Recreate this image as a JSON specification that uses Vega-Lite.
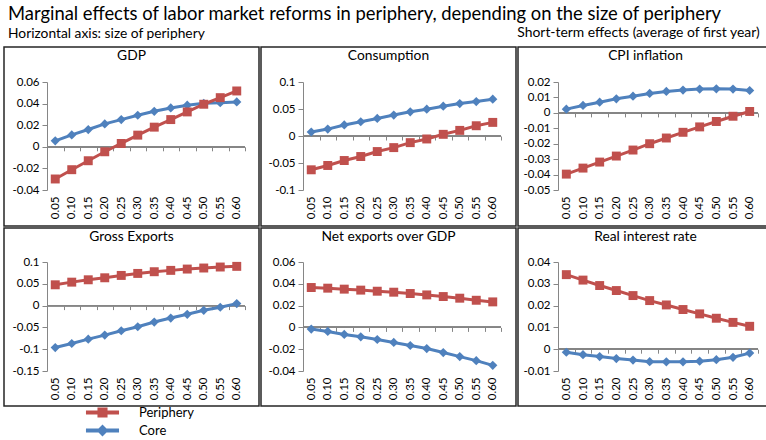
{
  "$schema": "https://vega.github.io/schema/vega-lite/v6.json",
  "padding": {"left": 3, "top": 5, "right": 0, "bottom": 0},
  "title": {
    "text": "Marginal effects of labor market reforms in periphery, depending on the size of periphery",
    "subtitle": "Horizontal axis: size of periphery",
    "anchor": "start", "frame": "group", "dx": 4, "offset": -14,
    "font": "Lato", "fontSize": 18.4, "fontWeight": "normal", "color": "#000",
    "subtitleFont": "Lato", "subtitleFontSize": 13.8, "subtitleColor": "#000", "subtitlePadding": 3
  },
  "data": {"values": [
    {"p":"GDP","x":0.05,"Periphery":-0.0298,"Core":0.0055},
    {"p":"GDP","x":0.10,"Periphery":-0.0212,"Core":0.011},
    {"p":"GDP","x":0.15,"Periphery":-0.0129,"Core":0.016},
    {"p":"GDP","x":0.20,"Periphery":-0.0046,"Core":0.0212},
    {"p":"GDP","x":0.25,"Periphery":0.0031,"Core":0.0252},
    {"p":"GDP","x":0.30,"Periphery":0.0108,"Core":0.0292},
    {"p":"GDP","x":0.35,"Periphery":0.0182,"Core":0.0329},
    {"p":"GDP","x":0.40,"Periphery":0.0252,"Core":0.036},
    {"p":"GDP","x":0.45,"Periphery":0.0323,"Core":0.0385},
    {"p":"GDP","x":0.50,"Periphery":0.0394,"Core":0.0403},
    {"p":"GDP","x":0.55,"Periphery":0.0455,"Core":0.0409},
    {"p":"GDP","x":0.60,"Periphery":0.0517,"Core":0.0415},
    {"p":"Consumption","x":0.05,"Periphery":-0.0626,"Core":0.0074},
    {"p":"Consumption","x":0.10,"Periphery":-0.0546,"Core":0.0128},
    {"p":"Consumption","x":0.15,"Periphery":-0.0454,"Core":0.0205},
    {"p":"Consumption","x":0.20,"Periphery":-0.038,"Core":0.0264},
    {"p":"Consumption","x":0.25,"Periphery":-0.0288,"Core":0.0325},
    {"p":"Consumption","x":0.30,"Periphery":-0.0215,"Core":0.0388},
    {"p":"Consumption","x":0.35,"Periphery":-0.0123,"Core":0.0448},
    {"p":"Consumption","x":0.40,"Periphery":-0.0055,"Core":0.0497},
    {"p":"Consumption","x":0.45,"Periphery":0.0031,"Core":0.0552},
    {"p":"Consumption","x":0.50,"Periphery":0.0104,"Core":0.0601},
    {"p":"Consumption","x":0.55,"Periphery":0.019,"Core":0.0638},
    {"p":"Consumption","x":0.60,"Periphery":0.0252,"Core":0.0681},
    {"p":"CPI inflation","x":0.05,"Periphery":-0.0397,"Core":0.0024},
    {"p":"CPI inflation","x":0.10,"Periphery":-0.0358,"Core":0.0048},
    {"p":"CPI inflation","x":0.15,"Periphery":-0.0319,"Core":0.0069},
    {"p":"CPI inflation","x":0.20,"Periphery":-0.028,"Core":0.0091},
    {"p":"CPI inflation","x":0.25,"Periphery":-0.0241,"Core":0.0108},
    {"p":"CPI inflation","x":0.30,"Periphery":-0.02,"Core":0.0126},
    {"p":"CPI inflation","x":0.35,"Periphery":-0.0163,"Core":0.0139},
    {"p":"CPI inflation","x":0.40,"Periphery":-0.0126,"Core":0.0148},
    {"p":"CPI inflation","x":0.45,"Periphery":-0.0091,"Core":0.0154},
    {"p":"CPI inflation","x":0.50,"Periphery":-0.0056,"Core":0.0156},
    {"p":"CPI inflation","x":0.55,"Periphery":-0.0022,"Core":0.0154},
    {"p":"CPI inflation","x":0.60,"Periphery":0.0009,"Core":0.0145},
    {"p":"Gross Exports","x":0.05,"Periphery":0.0477,"Core":-0.0962},
    {"p":"Gross Exports","x":0.10,"Periphery":0.0538,"Core":-0.0869},
    {"p":"Gross Exports","x":0.15,"Periphery":0.0592,"Core":-0.0769},
    {"p":"Gross Exports","x":0.20,"Periphery":0.0638,"Core":-0.0677},
    {"p":"Gross Exports","x":0.25,"Periphery":0.0692,"Core":-0.0577},
    {"p":"Gross Exports","x":0.30,"Periphery":0.0738,"Core":-0.0485},
    {"p":"Gross Exports","x":0.35,"Periphery":0.0777,"Core":-0.0377},
    {"p":"Gross Exports","x":0.40,"Periphery":0.0808,"Core":-0.0285},
    {"p":"Gross Exports","x":0.45,"Periphery":0.0838,"Core":-0.02},
    {"p":"Gross Exports","x":0.50,"Periphery":0.0862,"Core":-0.0108},
    {"p":"Gross Exports","x":0.55,"Periphery":0.0885,"Core":-0.0038},
    {"p":"Gross Exports","x":0.60,"Periphery":0.09,"Core":0.0046},
    {"p":"Net exports over GDP","x":0.05,"Periphery":0.0366,"Core":-0.0015},
    {"p":"Net exports over GDP","x":0.10,"Periphery":0.036,"Core":-0.0037},
    {"p":"Net exports over GDP","x":0.15,"Periphery":0.0351,"Core":-0.0065},
    {"p":"Net exports over GDP","x":0.20,"Periphery":0.0342,"Core":-0.0086},
    {"p":"Net exports over GDP","x":0.25,"Periphery":0.0332,"Core":-0.0111},
    {"p":"Net exports over GDP","x":0.30,"Periphery":0.0323,"Core":-0.0138},
    {"p":"Net exports over GDP","x":0.35,"Periphery":0.0311,"Core":-0.0166},
    {"p":"Net exports over GDP","x":0.40,"Periphery":0.0298,"Core":-0.0194},
    {"p":"Net exports over GDP","x":0.45,"Periphery":0.0283,"Core":-0.0231},
    {"p":"Net exports over GDP","x":0.50,"Periphery":0.0268,"Core":-0.0268},
    {"p":"Net exports over GDP","x":0.55,"Periphery":0.0249,"Core":-0.0305},
    {"p":"Net exports over GDP","x":0.60,"Periphery":0.0234,"Core":-0.0348},
    {"p":"Real interest rate","x":0.05,"Periphery":0.0342,"Core":-0.0014},
    {"p":"Real interest rate","x":0.10,"Periphery":0.0317,"Core":-0.0025},
    {"p":"Real interest rate","x":0.15,"Periphery":0.0292,"Core":-0.0034},
    {"p":"Real interest rate","x":0.20,"Periphery":0.0269,"Core":-0.0043},
    {"p":"Real interest rate","x":0.25,"Periphery":0.0246,"Core":-0.005},
    {"p":"Real interest rate","x":0.30,"Periphery":0.0223,"Core":-0.0057},
    {"p":"Real interest rate","x":0.35,"Periphery":0.0203,"Core":-0.0058},
    {"p":"Real interest rate","x":0.40,"Periphery":0.0182,"Core":-0.0058},
    {"p":"Real interest rate","x":0.45,"Periphery":0.0162,"Core":-0.0055},
    {"p":"Real interest rate","x":0.50,"Periphery":0.0142,"Core":-0.0048},
    {"p":"Real interest rate","x":0.55,"Periphery":0.0123,"Core":-0.0037},
    {"p":"Real interest rate","x":0.60,"Periphery":0.0105,"Core":-0.0018}
  ]},
  "vconcat": [
    {
      "title": {"text": "Short-term effects (average of first year)", "anchor": "end", "frame": "bounds", "offset": 6, "dx": -14,
        "font": "Lato", "fontSize": 13.9, "fontWeight": "normal", "color": "#000"},
      "hconcat": [
        {
          "width": 255, "height": 179,
          "title": {"text": "GDP"},
          "transform": [{"fold": ["Periphery", "Core"], "as": ["s", "v"]}, {"filter": "datum.p === 'GDP'"}],
          "resolve": {"axis": {"x": "independent"}},
          "encoding": {
            "y": {"field": "v", "type": "quantitative", "scale": {"domain": [-0.04, 0.06], "range": [143, 35], "nice": false, "zero": false},
              "axis": {"values": [-0.04,-0.02,0,0.02,0.04,0.06], "labelExpr": "datum.value + ''", "offset": -43}}
          },
          "layer": [
            {"mark": {"type": "rule", "color": "#868686"}, "encoding": {
              "x": {"datum": 0.025, "type": "quantitative", "scale": {"domain": [0.025, 0.625], "range": [43, 241], "nice": false, "zero": false},
                "axis": {"orient": "bottom", "values": [0.025,0.075,0.125,0.175,0.225,0.275,0.325,0.375,0.425,0.475,0.525,0.575,0.625], "labels": false, "domain": false, "tickSize": 4, "offset": -79.2}},
              "x2": {"datum": 0.625}, "y": {"datum": 0}}},
            {"transform": [{"filter": "datum.s === 'Core'"}], "mark": {"type": "line", "color": "#4F81BD", "strokeWidth": 3},
              "encoding": {"x": {"field": "x", "type": "quantitative", "scale": {"domain": [0.025, 0.625], "range": [43, 241], "nice": false, "zero": false},
                "axis": {"orient": "bottom", "values": [0.05,0.1,0.15,0.2,0.25,0.3,0.35,0.4,0.45,0.5,0.55,0.6], "format": ".2f", "offset": -36, "domain": false, "ticks": false, "labelAngle": -90, "labelPadding": 6}}}},
            {"transform": [{"filter": "datum.s === 'Core'"}], "mark": {"type": "point", "shape": "diamond", "filled": true, "opacity": 1, "size": 85, "color": "#4F81BD"},
              "encoding": {"x": {"field": "x", "type": "quantitative", "axis": null}}},
            {"transform": [{"filter": "datum.s === 'Periphery'"}], "mark": {"type": "line", "color": "#C0504D", "strokeWidth": 3},
              "encoding": {"x": {"field": "x", "type": "quantitative", "axis": null}}},
            {"transform": [{"filter": "datum.s === 'Periphery'"}], "mark": {"type": "point", "shape": "square", "filled": true, "opacity": 1, "size": 80, "color": "#C0504D"},
              "encoding": {"x": {"field": "x", "type": "quantitative", "axis": null}}}
          ]
        },
        {
          "width": 255, "height": 179,
          "title": {"text": "Consumption"},
          "transform": [{"fold": ["Periphery", "Core"], "as": ["s", "v"]}, {"filter": "datum.p === 'Consumption'"}],
          "resolve": {"axis": {"x": "independent"}},
          "encoding": {
            "y": {"field": "v", "type": "quantitative", "scale": {"domain": [-0.1, 0.1], "range": [143, 35], "nice": false, "zero": false},
              "axis": {"values": [-0.1,-0.05,0,0.05,0.1], "labelExpr": "datum.value + ''", "offset": -42}}
          },
          "layer": [
            {"mark": {"type": "rule", "color": "#868686"}, "encoding": {
              "x": {"datum": 0.025, "type": "quantitative", "scale": {"domain": [0.025, 0.625], "range": [42, 240], "nice": false, "zero": false},
                "axis": {"orient": "bottom", "values": [0.025,0.075,0.125,0.175,0.225,0.275,0.325,0.375,0.425,0.475,0.525,0.575,0.625], "labels": false, "domain": false, "tickSize": 4, "offset": -90}},
              "x2": {"datum": 0.625}, "y": {"datum": 0}}},
            {"transform": [{"filter": "datum.s === 'Core'"}], "mark": {"type": "line", "color": "#4F81BD", "strokeWidth": 3},
              "encoding": {"x": {"field": "x", "type": "quantitative", "scale": {"domain": [0.025, 0.625], "range": [42, 240], "nice": false, "zero": false},
                "axis": {"orient": "bottom", "values": [0.05,0.1,0.15,0.2,0.25,0.3,0.35,0.4,0.45,0.5,0.55,0.6], "format": ".2f", "offset": -36, "domain": false, "ticks": false, "labelAngle": -90, "labelPadding": 6}}}},
            {"transform": [{"filter": "datum.s === 'Core'"}], "mark": {"type": "point", "shape": "diamond", "filled": true, "opacity": 1, "size": 85, "color": "#4F81BD"},
              "encoding": {"x": {"field": "x", "type": "quantitative", "axis": null}}},
            {"transform": [{"filter": "datum.s === 'Periphery'"}], "mark": {"type": "line", "color": "#C0504D", "strokeWidth": 3},
              "encoding": {"x": {"field": "x", "type": "quantitative", "axis": null}}},
            {"transform": [{"filter": "datum.s === 'Periphery'"}], "mark": {"type": "point", "shape": "square", "filled": true, "opacity": 1, "size": 80, "color": "#C0504D"},
              "encoding": {"x": {"field": "x", "type": "quantitative", "axis": null}}}
          ]
        },
        {
          "width": 255, "height": 179,
          "title": {"text": "CPI inflation"},
          "transform": [{"fold": ["Periphery", "Core"], "as": ["s", "v"]}, {"filter": "datum.p === 'CPI inflation'"}],
          "resolve": {"axis": {"x": "independent"}},
          "encoding": {
            "y": {"field": "v", "type": "quantitative", "scale": {"domain": [-0.05, 0.02], "range": [143, 35], "nice": false, "zero": false},
              "axis": {"values": [-0.05,-0.04,-0.03,-0.02,-0.01,0,0.01,0.02], "labelExpr": "datum.value + ''", "offset": -40}}
          },
          "layer": [
            {"mark": {"type": "rule", "color": "#868686"}, "encoding": {
              "x": {"datum": 0.025, "type": "quantitative", "scale": {"domain": [0.025, 0.625], "range": [40, 240], "nice": false, "zero": false},
                "axis": {"orient": "bottom", "values": [0.025,0.075,0.125,0.175,0.225,0.275,0.325,0.375,0.425,0.475,0.525,0.575,0.625], "labels": false, "domain": false, "tickSize": 4, "offset": -113.1}},
              "x2": {"datum": 0.625}, "y": {"datum": 0}}},
            {"transform": [{"filter": "datum.s === 'Core'"}], "mark": {"type": "line", "color": "#4F81BD", "strokeWidth": 3},
              "encoding": {"x": {"field": "x", "type": "quantitative", "scale": {"domain": [0.025, 0.625], "range": [40, 240], "nice": false, "zero": false},
                "axis": {"orient": "bottom", "values": [0.05,0.1,0.15,0.2,0.25,0.3,0.35,0.4,0.45,0.5,0.55,0.6], "format": ".2f", "offset": -36, "domain": false, "ticks": false, "labelAngle": -90, "labelPadding": 6}}}},
            {"transform": [{"filter": "datum.s === 'Core'"}], "mark": {"type": "point", "shape": "diamond", "filled": true, "opacity": 1, "size": 85, "color": "#4F81BD"},
              "encoding": {"x": {"field": "x", "type": "quantitative", "axis": null}}},
            {"transform": [{"filter": "datum.s === 'Periphery'"}], "mark": {"type": "line", "color": "#C0504D", "strokeWidth": 3},
              "encoding": {"x": {"field": "x", "type": "quantitative", "axis": null}}},
            {"transform": [{"filter": "datum.s === 'Periphery'"}], "mark": {"type": "point", "shape": "square", "filled": true, "opacity": 1, "size": 80, "color": "#C0504D"},
              "encoding": {"x": {"field": "x", "type": "quantitative", "axis": null}}}
          ]
        }
      ]
    },
    {
      "hconcat": [
        {
          "width": 255, "height": 178,
          "title": {"text": "Gross Exports"},
          "transform": [{"fold": ["Periphery", "Core"], "as": ["s", "v"]}, {"filter": "datum.p === 'Gross Exports'"}],
          "resolve": {"axis": {"x": "independent"}},
          "encoding": {
            "y": {"field": "v", "type": "quantitative", "scale": {"domain": [-0.15, 0.1], "range": [143, 34], "nice": false, "zero": false},
              "axis": {"values": [-0.15,-0.1,-0.05,0,0.05,0.1], "labelExpr": "datum.value + ''", "offset": -43}}
          },
          "layer": [
            {"mark": {"type": "rule", "color": "#868686"}, "encoding": {
              "x": {"datum": 0.025, "type": "quantitative", "scale": {"domain": [0.025, 0.625], "range": [43, 241], "nice": false, "zero": false},
                "axis": {"orient": "bottom", "values": [0.025,0.075,0.125,0.175,0.225,0.275,0.325,0.375,0.425,0.475,0.525,0.575,0.625], "labels": false, "domain": false, "tickSize": 4, "offset": -100.4}},
              "x2": {"datum": 0.625}, "y": {"datum": 0}}},
            {"transform": [{"filter": "datum.s === 'Core'"}], "mark": {"type": "line", "color": "#4F81BD", "strokeWidth": 3},
              "encoding": {"x": {"field": "x", "type": "quantitative", "scale": {"domain": [0.025, 0.625], "range": [43, 241], "nice": false, "zero": false},
                "axis": {"orient": "bottom", "values": [0.05,0.1,0.15,0.2,0.25,0.3,0.35,0.4,0.45,0.5,0.55,0.6], "format": ".2f", "offset": -35, "domain": false, "ticks": false, "labelAngle": -90, "labelPadding": 6}}}},
            {"transform": [{"filter": "datum.s === 'Core'"}], "mark": {"type": "point", "shape": "diamond", "filled": true, "opacity": 1, "size": 85, "color": "#4F81BD"},
              "encoding": {"x": {"field": "x", "type": "quantitative", "axis": null}}},
            {"transform": [{"filter": "datum.s === 'Periphery'"}], "mark": {"type": "line", "color": "#C0504D", "strokeWidth": 3},
              "encoding": {"x": {"field": "x", "type": "quantitative", "axis": null}}},
            {"transform": [{"filter": "datum.s === 'Periphery'"}], "mark": {"type": "point", "shape": "square", "filled": true, "opacity": 1, "size": 80, "color": "#C0504D"},
              "encoding": {"x": {"field": "x", "type": "quantitative", "axis": null}}},
            {"transform": [{"filter": "false"}], "mark": {"type": "point", "filled": true, "opacity": 1},
              "encoding": {
                "x": {"field": "x", "type": "quantitative", "axis": null},
                "color": {"field": "s", "type": "nominal", "scale": {"domain": ["Periphery", "Core"], "range": ["#C0504D", "#4F81BD"]},
                  "legend": {"orient": "none", "legendX": 88, "legendY": 355, "title": null, "direction": "vertical"}},
                "shape": {"field": "s", "type": "nominal", "scale": {"domain": ["Periphery", "Core"], "range": ["M-1.74,-0.21H1.74V0.21H-1.74Z M-0.53,-0.53H0.53V0.53H-0.53Z", "M-1.74,-0.21H1.74V0.21H-1.74Z M0,-0.63L0.63,0L0,0.63L-0.63,0Z"]},
                  "legend": {"orient": "none", "legendX": 88, "legendY": 355, "title": null, "direction": "vertical"}}
              }}
          ]
        },
        {
          "width": 255, "height": 178,
          "title": {"text": "Net exports over GDP"},
          "transform": [{"fold": ["Periphery", "Core"], "as": ["s", "v"]}, {"filter": "datum.p === 'Net exports over GDP'"}],
          "resolve": {"axis": {"x": "independent"}},
          "encoding": {
            "y": {"field": "v", "type": "quantitative", "scale": {"domain": [-0.04, 0.06], "range": [143, 34], "nice": false, "zero": false},
              "axis": {"values": [-0.04,-0.02,0,0.02,0.04,0.06], "labelExpr": "datum.value + ''", "offset": -42}}
          },
          "layer": [
            {"mark": {"type": "rule", "color": "#868686"}, "encoding": {
              "x": {"datum": 0.025, "type": "quantitative", "scale": {"domain": [0.025, 0.625], "range": [42, 240], "nice": false, "zero": false},
                "axis": {"orient": "bottom", "values": [0.025,0.075,0.125,0.175,0.225,0.275,0.325,0.375,0.425,0.475,0.525,0.575,0.625], "labels": false, "domain": false, "tickSize": 4, "offset": -78.6}},
              "x2": {"datum": 0.625}, "y": {"datum": 0}}},
            {"transform": [{"filter": "datum.s === 'Core'"}], "mark": {"type": "line", "color": "#4F81BD", "strokeWidth": 3},
              "encoding": {"x": {"field": "x", "type": "quantitative", "scale": {"domain": [0.025, 0.625], "range": [42, 240], "nice": false, "zero": false},
                "axis": {"orient": "bottom", "values": [0.05,0.1,0.15,0.2,0.25,0.3,0.35,0.4,0.45,0.5,0.55,0.6], "format": ".2f", "offset": -35, "domain": false, "ticks": false, "labelAngle": -90, "labelPadding": 6}}}},
            {"transform": [{"filter": "datum.s === 'Core'"}], "mark": {"type": "point", "shape": "diamond", "filled": true, "opacity": 1, "size": 85, "color": "#4F81BD"},
              "encoding": {"x": {"field": "x", "type": "quantitative", "axis": null}}},
            {"transform": [{"filter": "datum.s === 'Periphery'"}], "mark": {"type": "line", "color": "#C0504D", "strokeWidth": 3},
              "encoding": {"x": {"field": "x", "type": "quantitative", "axis": null}}},
            {"transform": [{"filter": "datum.s === 'Periphery'"}], "mark": {"type": "point", "shape": "square", "filled": true, "opacity": 1, "size": 80, "color": "#C0504D"},
              "encoding": {"x": {"field": "x", "type": "quantitative", "axis": null}}}
          ]
        },
        {
          "width": 255, "height": 178,
          "title": {"text": "Real interest rate"},
          "transform": [{"fold": ["Periphery", "Core"], "as": ["s", "v"]}, {"filter": "datum.p === 'Real interest rate'"}],
          "resolve": {"axis": {"x": "independent"}},
          "encoding": {
            "y": {"field": "v", "type": "quantitative", "scale": {"domain": [-0.01, 0.04], "range": [143, 34], "nice": false, "zero": false},
              "axis": {"values": [-0.01,0,0.01,0.02,0.03,0.04], "labelExpr": "datum.value + ''", "offset": -40}}
          },
          "layer": [
            {"mark": {"type": "rule", "color": "#868686"}, "encoding": {
              "x": {"datum": 0.025, "type": "quantitative", "scale": {"domain": [0.025, 0.625], "range": [40, 240], "nice": false, "zero": false},
                "axis": {"orient": "bottom", "values": [0.025,0.075,0.125,0.175,0.225,0.275,0.325,0.375,0.425,0.475,0.525,0.575,0.625], "labels": false, "domain": false, "tickSize": 4, "offset": -56.8}},
              "x2": {"datum": 0.625}, "y": {"datum": 0}}},
            {"transform": [{"filter": "datum.s === 'Core'"}], "mark": {"type": "line", "color": "#4F81BD", "strokeWidth": 3},
              "encoding": {"x": {"field": "x", "type": "quantitative", "scale": {"domain": [0.025, 0.625], "range": [40, 240], "nice": false, "zero": false},
                "axis": {"orient": "bottom", "values": [0.05,0.1,0.15,0.2,0.25,0.3,0.35,0.4,0.45,0.5,0.55,0.6], "format": ".2f", "offset": -35, "domain": false, "ticks": false, "labelAngle": -90, "labelPadding": 6}}}},
            {"transform": [{"filter": "datum.s === 'Core'"}], "mark": {"type": "point", "shape": "diamond", "filled": true, "opacity": 1, "size": 85, "color": "#4F81BD"},
              "encoding": {"x": {"field": "x", "type": "quantitative", "axis": null}}},
            {"transform": [{"filter": "datum.s === 'Periphery'"}], "mark": {"type": "line", "color": "#C0504D", "strokeWidth": 3},
              "encoding": {"x": {"field": "x", "type": "quantitative", "axis": null}}},
            {"transform": [{"filter": "datum.s === 'Periphery'"}], "mark": {"type": "point", "shape": "square", "filled": true, "opacity": 1, "size": 80, "color": "#C0504D"},
              "encoding": {"x": {"field": "x", "type": "quantitative", "axis": null}}}
          ]
        }
      ]
    }
  ],
  "config": {
    "font": "Lato",
    "view": {"stroke": "#262626", "strokeWidth": 1.5},
    "concat": {"spacing": 0},
    "title": {"font": "Lato", "fontSize": 13.8, "fontWeight": "normal", "color": "#000", "offset": -16, "baseline": "alphabetic", "anchor": "middle"},
    "axis": {"title": null, "grid": false, "labelFont": "Lato", "labelFontSize": 11.5, "labelColor": "#000",
      "domainColor": "#868686", "tickColor": "#868686", "tickSize": 5, "labelPadding": 3,
      "labelFlush": false, "labelOverlap": false, "labelBound": false},
    "legend": {"labelFont": "Lato", "labelFontSize": 13, "labelColor": "#000", "symbolSize": 361, "labelOffset": 26, "rowPadding": 0, "padding": 0}
  }
}
